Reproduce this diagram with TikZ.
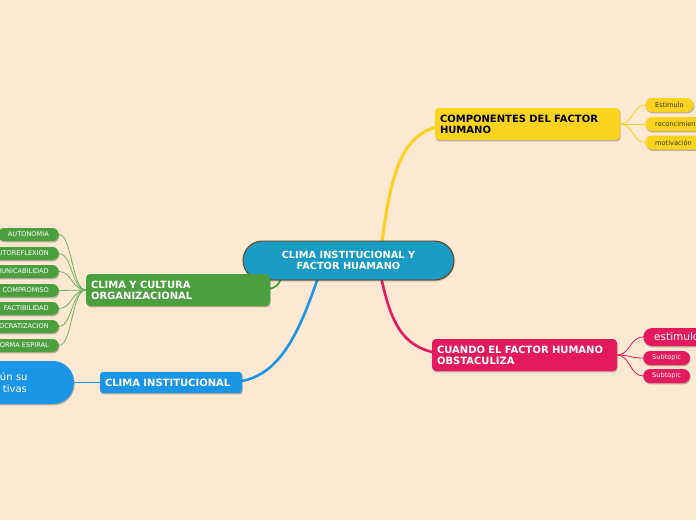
\documentclass[tikz,border=0pt]{standalone}
\usepackage{fontspec}
\setmainfont{DejaVu Sans}
\usetikzlibrary{shadows}
\definecolor{bg}{HTML}{FDE8D2}
\definecolor{cteal}{HTML}{1A9BC1}
\definecolor{cyel}{HTML}{F9D31E}
\definecolor{cpink}{HTML}{E31A5E}
\definecolor{cgreen}{HTML}{4C9F3F}
\definecolor{cblue}{HTML}{1B95E6}
\definecolor{cbrown}{HTML}{6B3A10}
\tikzset{
  shad/.style={drop shadow={shadow xshift=0.6pt,shadow yshift=-1.4pt,opacity=0.25,fill=black}},
  topic/.style={shad,rounded corners=4pt,inner xsep=5pt,inner ysep=0pt,align=left,font=\bfseries\fontsize{10}{11}\selectfont},
  pill/.style={shad,rounded corners=6.5pt,minimum height=13pt,inner xsep=10pt,inner ysep=0pt,font=\fontsize{6.6}{7.5}\selectfont},
  gsub/.style={pill,fill=cgreen,text=white,anchor=east},
  ysub/.style={pill,fill=cyel,text=black!80,anchor=west,minimum height=14pt,rounded corners=7pt},
  psub/.style={pill,fill=cpink,text=white,anchor=west,inner xsep=9pt,minimum height=14pt,rounded corners=7pt},
  gline/.style={draw=cgreen!80!white,line width=0.8pt},
}
\begin{document}
\begin{tikzpicture}[x=1pt,y=-1pt]
\fill[bg] (0,0) rectangle (696,520);
\useasboundingbox (0,0) rectangle (696,520);
\clip (0,0) rectangle (696,520);
% main branches
\coordinate (cy) at (381,250);
\coordinate (cp) at (380,272);
\coordinate (cb) at (320,272);
\coordinate (cg) at (282,272);
\draw[cyel,line width=3pt] (cy) .. controls (392,160) and (405,124) .. (460,124);
\draw[cpink,line width=2.6pt] (cp) .. controls (392,330) and (405,355) .. (460,355);
\draw[cblue,line width=2.6pt] (cb) .. controls (300,330) and (280,382) .. (230,382);
\draw[cgreen,line width=1.8pt] (cg) .. controls (280,285) and (278,290) .. (255,290);
% nodes
\node[shad,fill=cteal,draw=cbrown,line width=0.9pt,rounded corners=19.5pt,minimum width=211pt,minimum height=39pt,inner sep=0pt,align=center,text=white,font=\bfseries\fontsize{9.8}{11}\selectfont] (c) at (348.5,260.5) {CLIMA INSTITUCIONAL Y\\FACTOR HUAMANO};
\node[topic,fill=cyel,text=black,minimum width=185pt,minimum height=32pt,text width=175pt] (y) at (527.5,124) {COMPONENTES DEL FACTOR\\HUMANO};
\node[topic,fill=cpink,text=white,minimum width=185pt,minimum height=32pt,text width=175pt] (p) at (524.5,355) {CUANDO EL FACTOR HUMANO\\OBSTACULIZA};
\node[topic,fill=cgreen,text=white,minimum width=184pt,minimum height=32pt,text width=174pt] (g) at (178,290) {CLIMA Y CULTURA\\ORGANIZACIONAL};
\node[topic,fill=cblue,text=white,minimum width=142pt,minimum height=21pt,text width=132pt,rounded corners=3pt] (b) at (171,382.5) {CLIMA INSTITUCIONAL};
% blue sub
\draw[cblue,line width=0.8pt] (60,382.5) -- (b.west);
\node[shad,fill=cblue,text=white,rounded corners=21pt,minimum width=130pt,minimum height=43pt,inner xsep=5pt,inner ysep=0pt,text width=120pt,align=left,font=\fontsize{10}{12}\selectfont] (bs) at (9,382.5) {\hspace*{51pt}ún su\\\hspace*{54pt}tivas};
% green subs
\node[gsub] (g1) at (59,234.5) {AUTONOMIA};
\node[gsub] (g2) at (59,253.5) {AUTOREFLEXION};
\node[gsub] (g3) at (59,271.5) {COMUNICABILIDAD};
\node[gsub] (g4) at (59,290.5) {COMPROMISO};
\node[gsub] (g5) at (59,308.5) {FACTIBILIDAD};
\node[gsub] (g6) at (59,326.5) {DEMOCRATIZACION};
\node[gsub] (g7) at (59,345.5) {FORMA ESPIRAL};
\foreach \i in {1,...,7}{
  \draw[gline] (g.west) .. controls (72,290) and (72,0|-g\i.east) .. (g\i.east);
}
% yellow subs
\node[ysub] (y1) at (645,105) {Estimulo};
\node[ysub] (y2) at (645,124) {reconcimiento};
\node[ysub] (y3) at (645,142.5) {motivación};
\foreach \i in {1,2,3}{
  \draw[cyel,line width=0.8pt] (y.east) .. controls (633,124) and (633,0|-y\i.west) .. (y\i.west);
}
% pink subs
\node[pill,fill=cpink,text=white,anchor=west,inner xsep=11pt,minimum height=18pt,rounded corners=9pt,font=\fontsize{10.5}{12}\selectfont] (p1) at (643,337) {estimulo};
\node[psub] (p2) at (643,358) {Subtopic};
\node[psub] (p3) at (643,376) {Subtopic};
\foreach \i in {1,2,3}{
  \draw[cpink,line width=0.8pt] (p.east) .. controls (630,355) and (630,0|-p\i.west) .. (p\i.west);
}
\end{tikzpicture}
\end{document}
